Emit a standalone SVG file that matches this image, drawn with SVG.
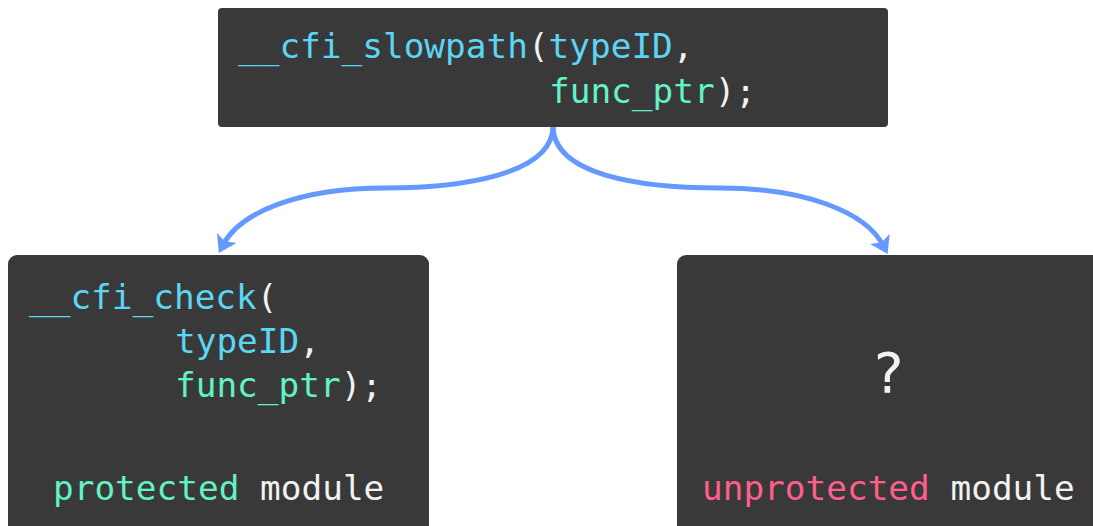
<svg xmlns="http://www.w3.org/2000/svg" width="1093" height="526" viewBox="0 0 1093 526">
  <style>
    .box { fill: #393939; }
    .code { font-family: "DejaVu Sans Mono", "Liberation Mono", monospace; font-size: 34.4px; fill: #f2f2f2; white-space: pre; }
    .fn { fill: #5cd6f4; }
    .arg { fill: #62f2c4; }
    .bad { fill: #ff5f8a; }
    .link { fill: none; stroke: #6699ff; stroke-width: 5; }
  </style>
  <defs>
    <marker id="arrow" markerUnits="userSpaceOnUse" viewBox="0 0 18 22" markerWidth="18" markerHeight="22" refX="8" refY="11" orient="auto">
      <path d="M0,0 L17,11 L0,22 L4,11 z" fill="#6699ff"/>
    </marker>
  </defs>

  <!-- connectors -->
  <g id="connectors">
    <path class="link" d="M553,126 C553,175 460,188 385,188 C300,188 240,212 223,245" marker-end="url(#arrow)"/>
    <path class="link" d="M553,126 C553,175 640,188 720,188 C805,188 866,212 883.5,246" marker-end="url(#arrow)"/>
  </g>

  <!-- slowpath call -->
  <g id="slowpath">
    <rect class="box" x="218" y="8" width="670" height="119" rx="4"/>
    <text class="code" x="238" y="58"><tspan class="fn">__cfi_slowpath</tspan>(<tspan class="fn">typeID</tspan>,</text>
    <text class="code" x="549" y="103"><tspan class="arg">func_ptr</tspan>);</text>
  </g>

  <!-- protected module -->
  <g id="protected">
    <rect class="box" x="8" y="255" width="421" height="290" rx="9"/>
    <text class="code" x="29" y="309"><tspan class="fn">__cfi_check</tspan>(</text>
    <text class="code" x="175" y="353"><tspan class="fn">typeID</tspan>,</text>
    <text class="code" x="175" y="397"><tspan class="arg">func_ptr</tspan>);</text>
    <text class="code" x="53" y="500"><tspan class="arg">protected</tspan> module</text>
  </g>

  <!-- unprotected module -->
  <g id="unprotected">
    <rect class="box" x="677" y="255" width="430" height="290" rx="9"/>
    <text class="code" x="888" y="392" text-anchor="middle" style="font-size:56px">?</text>
    <text class="code" x="702" y="500"><tspan class="bad">unprotected</tspan> module</text>
  </g>
</svg>
